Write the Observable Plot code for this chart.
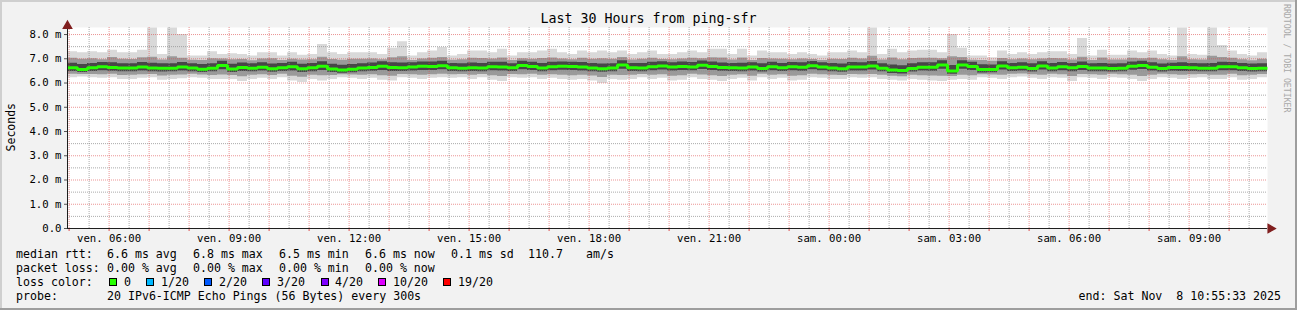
<!DOCTYPE html>
<html><head><meta charset="utf-8">
<script src="https://cdn.jsdelivr.net/npm/d3@7"></script>
<script src="https://cdn.jsdelivr.net/npm/@observablehq/plot@0.6"></script>
<style>
html,body{margin:0;padding:0;background:#f2f2f2;}
#wrap{position:relative;width:1297px;height:310px;background:#f2f2f2;overflow:hidden;font-family:"DejaVu Sans Mono",monospace;color:#000;}
.abs{position:absolute;white-space:pre;}
.leg{position:absolute;white-space:pre;font-size:11.6px;line-height:14px;}
.box{position:absolute;width:6px;height:6px;border:1px solid #000;}
#chart{position:absolute;left:0;top:0;}
</style></head><body><div id="wrap">
<div id="chart"></div>
<div class="abs" style="left:0;top:11px;width:1297px;text-align:center;font-size:13.3px;line-height:16px;">Last 30 Hours from ping-sfr</div>
<div class="abs" style="left:5px;top:103px;font-size:11.5px;line-height:12px;writing-mode:vertical-rl;transform:rotate(180deg);">Seconds</div>
<div class="abs" style="left:1282px;top:4px;font-size:8.2px;line-height:10px;writing-mode:vertical-rl;color:#a8a8a8;">RRDTOOL / TOBI OETIKER</div>
<div id="legend"></div>
</div>
<script>
// ---- data (ms), 15-minute steps over 30 hours ----
const tStart = 4.96;      // hours since Fri 00:00
const stepHours = 0.25;
const spanHours = 30;
const yTop = 8.29;

const median = [
6.63,6.56,6.63,6.67,6.64,6.62,6.62,6.66,6.62,6.61,6.61,6.66,6.62,6.57,6.61,6.72,6.58,6.64,6.61,6.65,6.59,6.63,6.67,6.59,
6.63,6.69,6.58,6.54,6.57,6.62,6.64,6.69,6.64,6.63,6.66,6.69,6.68,6.71,6.63,6.61,6.63,6.62,6.67,6.66,6.63,6.72,6.68,6.62,
6.67,6.69,6.68,6.66,6.62,6.59,6.62,6.74,6.63,6.62,6.67,6.70,6.66,6.68,6.66,6.73,6.68,6.64,6.63,6.62,6.66,6.60,6.67,6.63,
6.67,6.65,6.71,6.66,6.62,6.59,6.66,6.66,6.70,6.61,6.54,6.52,6.60,6.65,6.65,6.74,6.50,6.74,6.68,6.56,6.56,6.70,6.63,6.65,
6.60,6.70,6.62,6.67,6.63,6.68,6.62,6.62,6.60,6.61,6.69,6.72,6.65,6.60,6.64,6.64,6.63,6.61,6.61,6.67,6.67,6.63,6.60,6.61];

const smokeMax = [
7.29,7.25,7.29,7.25,7.35,7.25,7.25,7.35,8.27,7.18,8.27,8.00,7.11,7.11,7.29,7.18,7.21,7.18,7.11,7.25,7.25,7.11,7.25,7.15,
7.18,7.59,7.25,7.18,7.25,7.25,7.25,7.18,7.43,7.70,7.11,7.25,7.32,7.46,7.11,7.18,7.32,7.32,7.25,7.39,7.11,7.25,7.25,7.32,
7.39,7.25,7.18,7.32,7.25,7.32,7.25,7.32,7.18,7.25,7.32,7.18,7.18,7.25,7.32,7.25,7.39,7.39,7.18,7.39,7.11,7.32,7.25,7.25,
7.18,7.25,7.18,7.11,7.25,7.25,7.32,7.25,8.27,7.18,7.39,7.25,7.32,7.35,7.35,7.25,8.00,7.43,7.11,7.11,7.04,7.32,7.18,7.25,
7.18,7.25,7.29,7.29,7.18,7.84,7.11,7.35,7.15,7.15,7.32,7.25,7.32,7.18,7.11,8.27,7.18,7.15,8.27,7.55,7.32,7.18,7.11,7.25];

const smokeHi = [
7.02,6.98,7.00,6.96,7.05,6.98,6.97,7.04,7.06,6.95,7.08,7.02,6.94,6.93,7.00,6.99,6.96,6.97,6.92,6.99,7.00,6.93,6.98,6.95,
6.96,7.06,6.97,6.94,6.98,6.98,6.99,6.96,7.04,7.08,6.93,6.99,7.02,7.05,6.94,6.96,7.02,7.01,6.99,7.03,6.93,7.00,6.98,7.01,
7.03,6.99,6.96,7.02,6.98,7.00,6.98,7.05,6.95,6.98,7.02,6.97,6.96,6.99,7.02,7.00,7.04,7.03,6.95,7.03,6.93,7.01,6.99,6.98,
6.96,6.99,6.97,6.93,6.98,6.97,7.02,6.99,7.10,6.95,7.03,6.96,7.01,7.02,7.02,7.00,7.08,7.05,6.94,6.93,6.90,7.01,6.96,6.99,
6.96,6.99,7.01,7.00,6.95,7.06,6.93,7.03,6.95,6.95,7.02,7.00,7.02,6.96,6.93,7.08,6.96,6.95,7.10,7.05,7.02,6.96,6.92,6.98];

const smokeCoreHi = [
6.82,6.76,6.81,6.85,6.84,6.80,6.80,6.85,6.82,6.79,6.80,6.85,6.80,6.76,6.80,6.90,6.77,6.83,6.79,6.84,6.78,6.81,6.86,6.77,
6.81,6.88,6.77,6.73,6.76,6.80,6.83,6.88,6.84,6.83,6.84,6.87,6.87,6.90,6.81,6.80,6.83,6.81,6.86,6.86,6.80,6.90,6.86,6.81,
6.86,6.87,6.86,6.85,6.81,6.78,6.80,6.92,6.81,6.81,6.86,6.88,6.84,6.87,6.85,6.91,6.87,6.83,6.81,6.82,6.84,6.79,6.86,6.81,
6.85,6.84,6.89,6.84,6.81,6.78,6.85,6.84,6.89,6.80,6.74,6.71,6.79,6.84,6.84,6.92,6.72,6.92,6.86,6.75,6.74,6.88,6.81,6.84,
6.79,6.88,6.81,6.85,6.81,6.87,6.80,6.81,6.78,6.79,6.87,6.90,6.84,6.78,6.82,6.84,6.81,6.80,6.81,6.86,6.85,6.81,6.78,6.80];

const smokeCoreLo = [
6.48,6.43,6.48,6.51,6.49,6.46,6.47,6.50,6.47,6.45,6.46,6.50,6.47,6.43,6.46,6.55,6.43,6.48,6.46,6.50,6.44,6.48,6.50,6.43,
6.47,6.52,6.43,6.40,6.42,6.47,6.49,6.52,6.48,6.48,6.50,6.52,6.52,6.55,6.48,6.46,6.48,6.47,6.51,6.50,6.48,6.55,6.52,6.47,
6.51,6.53,6.52,6.50,6.47,6.44,6.47,6.57,6.48,6.47,6.51,6.54,6.50,6.52,6.51,6.56,6.52,6.49,6.48,6.47,6.50,6.45,6.51,6.48,
6.51,6.49,6.55,6.51,6.47,6.44,6.50,6.50,6.54,6.46,6.39,6.37,6.45,6.50,6.49,6.57,6.36,6.57,6.52,6.41,6.42,6.54,6.48,6.50,
6.45,6.54,6.47,6.51,6.47,6.52,6.47,6.47,6.45,6.46,6.53,6.56,6.50,6.45,6.49,6.48,6.48,6.46,6.46,6.51,6.51,6.48,6.45,6.46];

const smokeLo = [
6.36,6.35,6.35,6.34,6.36,6.31,6.32,6.34,6.35,6.29,6.32,6.33,6.36,6.33,6.31,6.33,6.31,6.26,6.32,6.34,6.31,6.36,6.28,6.24,
6.32,6.30,6.31,6.34,6.33,6.32,6.34,6.30,6.28,6.35,6.34,6.32,6.34,6.36,6.34,6.35,6.32,6.35,6.30,6.27,6.35,6.34,6.36,6.32,
6.34,6.32,6.30,6.32,6.29,6.23,6.32,6.31,6.32,6.35,6.32,6.34,6.28,6.30,6.36,6.33,6.30,6.27,6.32,6.34,6.28,6.36,6.32,6.34,
6.28,6.30,6.36,6.34,6.32,6.31,6.35,6.34,6.35,6.32,6.28,6.26,6.32,6.30,6.29,6.28,6.27,6.32,6.30,6.34,6.33,6.32,6.36,6.37,
6.34,6.32,6.36,6.34,6.27,6.35,6.34,6.32,6.36,6.34,6.32,6.27,6.32,6.36,6.34,6.32,6.34,6.35,6.32,6.32,6.36,6.30,6.32,6.35];

const smokeMin = [
6.22,6.25,6.22,6.20,6.22,6.15,6.15,6.20,6.22,6.11,6.15,6.18,6.22,6.20,6.15,6.15,6.15,6.06,6.15,6.20,6.15,6.22,6.08,6.02,
6.15,6.08,6.15,6.22,6.20,6.15,6.20,6.11,6.08,6.22,6.20,6.15,6.20,6.22,6.20,6.22,6.15,6.22,6.11,6.06,6.22,6.20,6.22,6.15,
6.20,6.15,6.11,6.15,6.08,5.98,6.15,6.11,6.15,6.22,6.15,6.20,6.08,6.11,6.22,6.15,6.11,6.06,6.15,6.20,6.08,6.22,6.15,6.20,
6.08,6.11,6.22,6.20,6.15,6.15,6.22,6.20,6.22,6.15,6.11,6.08,6.15,6.11,6.08,6.06,6.11,6.15,6.11,6.22,6.20,6.15,6.22,6.25,
6.20,6.15,6.22,6.20,6.06,6.22,6.20,6.15,6.22,6.20,6.15,6.06,6.15,6.22,6.20,6.15,6.20,6.22,6.15,6.15,6.22,6.11,6.15,6.22];

// ---- axes / ticks ----
const yMajor = [0,1,2,3,4,5,6,7,8];
const yMinor = [0.5,1.5,2.5,3.5,4.5,5.5,6.5,7.5];
const xLabelHours = [6,9,12,15,18,21,24,27,30,33];
const xLabelText = ["ven. 06:00","ven. 09:00","ven. 12:00","ven. 15:00","ven. 18:00","ven. 21:00","sam. 00:00","sam. 03:00","sam. 06:00","sam. 09:00"];

// ---- legend texts ----
const rttItems = ["median rtt:","6.6 ms avg","6.8 ms max","6.5 ms min","6.6 ms now","0.1 ms sd","110.7","am/s"];
const lossItems = ["packet loss:","0.00 % avg","0.00 % max","0.00 % min","0.00 % now"];
const lossTitle = "loss color:";
const lossLabels = ["0","1/20","2/20","3/20","4/20","10/20","19/20"];
const lossColors = ["#26ff00","#00b8ff","#0059ff","#5e00ff","#7e00ff","#dd00ff","#ff0000"];
const probeItems = ["probe:","20 IPv6-ICMP Echo Pings (56 Bytes) every 300s"];
const endLine = "end: Sat Nov  8 10:55:33 2025";

// ---- legend layout (pixels) ----
const rttX = [16,107,193,279,365,451,528,586];
const lossX = [16,107,193,279,365];
const boxX = [109,146,204,262,321,378,443];
const labX = [124,161,219,277,335,393,458];
const probeX = [16,107];
const lineTop = [247,261,275,289];

// build table
const rows = median.map((m, i) => ({
  t: tStart + i * stepHours, med: m,
  max: smokeMax[i], hi: smokeHi[i], chi: smokeCoreHi[i],
  clo: smokeCoreLo[i], lo: smokeLo[i], min: smokeMin[i]
}));
rows.push({...rows[rows.length - 1], t: tStart + spanHours});

const hourLines = d3.range(Math.ceil(tStart), tStart + spanHours, 1);
const halfHourLines = hourLines.map(h => h + 0.5).filter(h => h < tStart + spanHours);

const gridMinor = {stroke: "rgb(143,143,143)", strokeOpacity: 0.75, strokeDasharray: "1,1"};
const gridMajor = {stroke: "rgb(222,79,79)", strokeOpacity: 0.6, strokeDasharray: "1,1"};
const arrowCol = "rgb(128,31,31)";

const chart = Plot.plot({
  width: 1297, height: 250,
  marginLeft: 67, marginRight: 30, marginTop: 27, marginBottom: 22,
  style: {background: "transparent", fontFamily: "DejaVu Sans Mono", fontSize: "10.67px", color: "#000", overflow: "visible"},
  x: {domain: [tStart, tStart + spanHours]},
  y: {domain: [0, yTop]},
  marks: [
    Plot.frame({fill: "#ffffff", stroke: null}),
    Plot.areaY(rows, {x: "t", y1: "min", y2: "max", curve: "step-after", fill: "#d9d9d9"}),
    Plot.areaY(rows, {x: "t", y1: "lo", y2: "hi", curve: "step-after", fill: "#9a9a9a"}),
    Plot.areaY(rows, {x: "t", y1: "clo", y2: "chi", curve: "step-after", fill: "#474747"}),
    Plot.ruleX(halfHourLines, gridMinor),
    Plot.ruleY(yMinor, gridMinor),
    Plot.ruleX(hourLines, gridMajor),
    Plot.ruleY(yMajor.filter(v => v > 0), gridMajor),
    Plot.line(rows, {x: "t", y: "med", curve: "step-after", stroke: "#26ff00", strokeWidth: 3, strokeLinejoin: "miter", strokeLinecap: "butt"}),
    Plot.axisY({ticks: yMajor, tickSize: 3, tickPadding: 3, label: null, stroke: "#555",
      tickFormat: v => v === 0 ? "0.0" : v.toFixed(1) + " m"}),
    Plot.axisX({ticks: hourLines, tickSize: 3, tickPadding: 0, label: null, stroke: "rgb(222,79,79)", tickFormat: () => ""}),
    Plot.axisX({ticks: xLabelHours, tickSize: 0, tickPadding: 6, label: null,
      tickFormat: h => xLabelText[xLabelHours.indexOf(h)]}),
    Plot.ruleY([0], {stroke: "#1f1f1f"}),
    Plot.ruleX([tStart], {stroke: "#1f1f1f"}),
    Plot.dot([{x: tStart, y: yTop}], {x: "x", y: "y", symbol: "triangle", r: 3, fill: arrowCol, stroke: arrowCol, dy: -1.5}),
    Plot.dot([{x: tStart + spanHours, y: 0}], {x: "x", y: "y", symbol: "triangle", r: 3, rotate: 90, fill: arrowCol, stroke: arrowCol, dx: 3})
  ]
});
document.getElementById("chart").appendChild(chart);

// legend HTML
const leg = document.getElementById("legend");
function addText(txt, left, top, extra) {
  const d = document.createElement("div");
  d.className = "leg"; d.textContent = txt;
  d.style.left = left + "px"; d.style.top = top + "px";
  if (extra) Object.assign(d.style, extra);
  leg.appendChild(d);
}
rttItems.forEach((s, i) => addText(s, rttX[i], lineTop[0]));
lossItems.forEach((s, i) => addText(s, lossX[i], lineTop[1]));
addText(lossTitle, 16, lineTop[2]);
lossLabels.forEach((lab, i) => {
  const b = document.createElement("div");
  b.className = "box"; b.style.left = boxX[i] + "px"; b.style.top = (lineTop[2] + 3) + "px";
  b.style.background = lossColors[i];
  leg.appendChild(b);
  addText(lab, labX[i], lineTop[2]);
});
probeItems.forEach((s, i) => addText(s, probeX[i], lineTop[3]));
addText(endLine, 0, lineTop[3], {left: "auto", right: "16px"});

// 3D frame
[["0","0","1297px","2px","#cfcfcf"],["0","0","2px","310px","#cfcfcf"],
 ["0","308px","1297px","2px","#9e9e9e"],["1295px","0","2px","310px","#9e9e9e"]].forEach(([l,t,w,h,c]) => {
  const d = document.createElement("div");
  Object.assign(d.style, {position:"absolute", left:l, top:t, width:w, height:h, background:c});
  document.getElementById("wrap").appendChild(d);
});
</script></body></html>
